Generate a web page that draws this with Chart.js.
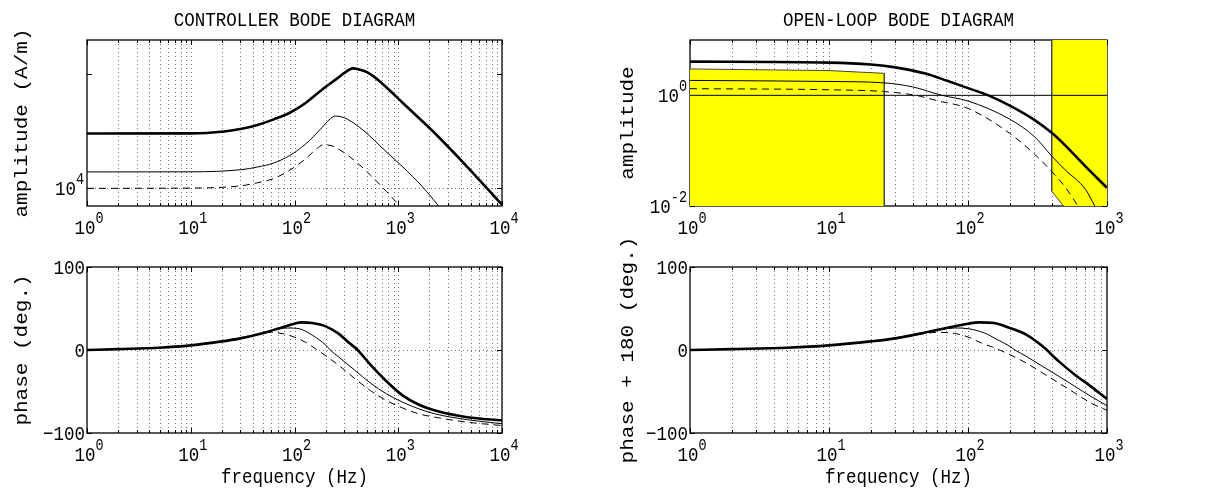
<!DOCTYPE html>
<html><head><meta charset="utf-8">
<script src="https://cdn.jsdelivr.net/npm/chart.js@4/dist/chart.umd.min.js"></script>
<style>
html,body{margin:0;padding:0;background:#fff;}
body{width:1218px;height:491px;overflow:hidden;position:relative;}
canvas{position:absolute;left:0;top:0;}
</style></head>
<body>
<canvas id="c1" width="1218" height="491"></canvas>
<canvas id="c2" width="1218" height="491"></canvas>
<canvas id="c3" width="1218" height="491"></canvas>
<canvas id="c4" width="1218" height="491"></canvas>
<script>
// ---------------- DATA ----------------
// Controller amplitude (A/m) vs frequency (Hz)
const ctrlAmpThickF = [1,10,21,31,44,63,90,128,184,264,300,365,430,504,600,722,1108,2268,4645,10000];
const ctrlAmpThickV = [30270,30340,31550,33270,35970,40270,46030,56100,73280,93540,102300,112700,109600,104000,93500,80910,56100,30270,15380,7180];
const ctrlAmpThinF  = [1,10,31,44,63,90,128,184,215,246,280,326,467,774,1108,1712,2440];
const ctrlAmpThinV  = [13930,13960,14590,15380,16670,19410,24490,34120,39800,43050,42500,40270,31920,20750,15380,10330,7030];
const ctrlAmpDashF  = [1,10,31,44,63,90,128,165,191,225,264,378,541,774,1030];
const ctrlAmpDashV  = [10000,10050,10540,11190,12190,14420,18160,22400,24150,23700,22180,17580,13030,9350,7030];

// Open-loop amplitude vs frequency (Hz)
const olAmpThickF = [1,10,20,30,50,70,100,140,200,300,400,500,700,1000];
const olAmpThickV = [4.06,3.9,3.6,3.2,2.45,1.85,1.35,1.0,0.65,0.36,0.21,0.125,0.052,0.0213];
const olAmpThinF  = [1,10,25,40,65,100,200,300,400,500,700,817];
const olAmpThinV  = [1.86,1.78,1.68,1.42,1.0,0.79,0.37,0.18,0.08,0.045,0.02,0.01];
const olAmpDashF  = [1,10,25,42,60,100,200,300,400,500,618];
const olAmpDashV  = [1.32,1.26,1.17,1.0,0.8,0.58,0.205,0.087,0.042,0.022,0.01];
const olUnityF = [1,1000];
const olUnityV = [1,1];
// yellow specification regions
const specLowF = [1,10,25,25];
const specLowV = [3.0,2.8,2.5,0.01];
const specHighF = [400,400,486,1000];
const specHighV = [10,0.0186,0.01,0.001];

// Controller phase (deg.)
const ctrlPhThickF = [1,2,5,10,20,30,50,70,100,116,148,200,264,326,406,541,774,1108,1585,2268,4645,10000];
const ctrlPhThickV = [0,1.1,2.8,5.6,10.4,14,20.5,26,31.7,33.3,32.5,28.5,20,10,0,-18,-38,-55,-66,-73,-81,-84.7];
const ctrlPhThinF  = [1,2,5,10,20,30,50,63,85,112,148,200,221,264,378,541,774,1108,1585,2268,4645,10000];
const ctrlPhThinV  = [0,1.1,2.8,5.6,10.4,14,20,24,26.5,25.5,18,6,0,-8,-24,-40,-53,-63,-71,-77,-84,-88.8];
const ctrlPhDashF  = [1,2,5,10,20,30,44,60,78,100,129,166,200,264,378,541,774,1108,1585,2268,4645,10000];
const ctrlPhDashV  = [0,1,2.6,5.3,10,13.5,18.5,21.3,19.5,15.5,9,0,-7,-18,-34,-49,-61,-70,-77,-81,-87,-91];

// Open-loop phase + 180 (deg.)
const olPhThickF = [1,2,5,10,20,30,50,70,100,120,154,200,262,344,450,587,765,1000];
const olPhThickV = [0,1.1,2.8,5.6,10.4,14,21.3,26.5,31.7,33.3,32.5,26.5,18.5,4.4,-13.7,-29.7,-43.8,-59];
const olPhThinF  = [1,2,5,10,20,30,50,80,100,131,163,200,218,262,344,450,587,765,1000];
const olPhThinV  = [0,1.1,2.8,5.5,10.4,14.5,21,26.5,25.7,20.5,12.4,4.4,0,-7.6,-19.7,-31.7,-43.8,-55.8,-67];
const olPhDashF  = [1,2,5,10,20,30,50,60,80,100,125,150,169,200,262,344,450,587,765,1000];
const olPhDashV  = [0,1,2.6,5.3,10,14,20,21.3,20,15.7,8.4,3.6,0,-5.6,-15.7,-27.7,-39.8,-51.8,-63.9,-72.7];

// Axis ticks
const xDecadesCtrl = [0,1,2,3,4];
const xDecadesOl = [0,1,2,3];
const ctrlAmpTickExp = [4];        // labelled
const ctrlAmpTickMarks = [1e4,1e5];
const ctrlAmpGrid = [1e4];
const olAmpTickExp = [0,-2];
const olAmpTickMarks = [0.01,1];
const phaseTicks = [-100,0,100];
const phaseGrid = [0];

// Text
const titles = ['CONTROLLER BODE DIAGRAM','OPEN-LOOP BODE DIAGRAM'];
const yLabels = ['amplitude (A/m)','amplitude','phase (deg.)','phase + 180 (deg.)'];
const xLabel = 'frequency (Hz)';

// ---------------- HELPERS ----------------
const FONT = '"Liberation Mono","DejaVu Sans Mono",monospace';
const FS = 17.5, SUP = 13.5, SY = 1.2;
function pts(fs, vs){ return fs.map((f,i)=>({x:f,y:vs[i]})); }
function minorGrid(decs){
  const out=[];
  for(let d=decs[0]; d<decs[decs.length-1]; d++){
    for(let k=1;k<10;k++){ out.push(k*Math.pow(10,d)); }
  }
  out.push(Math.pow(10,decs[decs.length-1]));
  return out;
}
function curve(data, kind){
  const base = {data, pointRadius:0, fill:false, cubicInterpolationMode:'monotone', borderColor:'#000', borderCapStyle:'butt', borderJoinStyle:'round'};
  if(kind==='thick') return Object.assign(base,{borderWidth:2.6});
  if(kind==='thin') return Object.assign(base,{borderWidth:1});
  if(kind==='dash') return Object.assign(base,{borderWidth:1,borderDash:[7,5]});
  return base;
}
function text(ctx, s, x, y, align, base, size, rot){
  ctx.save();
  ctx.translate(x,y);
  ctx.scale(1,SY);
  if(rot) ctx.rotate(-Math.PI/2);
  ctx.font = size+'px '+FONT;
  ctx.textAlign=align; ctx.textBaseline=base;
  ctx.fillText(s,0,0);
  ctx.restore();
}
function drawPow(ctx, b, exp, x, y, align){
  ctx.font = FS+'px '+FONT;
  const wb = ctx.measureText(b).width;
  ctx.font = SUP+'px '+FONT;
  const we = ctx.measureText(exp).width;
  const w = wb + we;
  const x0 = align==='center' ? x - w/2 : x - w;
  text(ctx, b, x0, y, 'left', 'alphabetic', FS);
  text(ctx, exp, x0+wb, y-11, 'left', 'alphabetic', SUP);
}

function makePlugin(cfg){
  return {
    id:'frame'+cfg.id,
    beforeDatasetsDraw(chart){
      const {ctx, chartArea:a, scales:{x,y}} = chart;
      ctx.save();
      ctx.strokeStyle='rgba(0,0,0,0.55)'; ctx.lineWidth=1; ctx.setLineDash([1,3]);
      cfg.xGrid.forEach(v=>{
        const p=Math.round(x.getPixelForValue(v))+0.5;
        if(p<=a.left+1||p>=a.right-1) return;
        ctx.beginPath(); ctx.moveTo(p,a.top); ctx.lineTo(p,a.bottom); ctx.stroke();
      });
      cfg.yGrid.forEach(v=>{
        const p=Math.round(y.getPixelForValue(v))+0.5;
        if(p<=a.top+1||p>=a.bottom-1) return;
        ctx.beginPath(); ctx.moveTo(a.left,p); ctx.lineTo(a.right,p); ctx.stroke();
      });
      ctx.setLineDash([]);
      ctx.strokeStyle='#000'; ctx.lineWidth=1;
      cfg.xGrid.forEach(v=>{
        const p=Math.round(x.getPixelForValue(v))+0.5;
        const major = Math.abs(Math.log10(v)-Math.round(Math.log10(v)))<1e-9;
        const L = major?5:3;
        ctx.beginPath(); ctx.moveTo(p,a.bottom); ctx.lineTo(p,a.bottom-L);
        ctx.moveTo(p,a.top); ctx.lineTo(p,a.top+L); ctx.stroke();
      });
      cfg.yTicks.forEach(v=>{
        const p=Math.round(y.getPixelForValue(v))+0.5;
        ctx.beginPath(); ctx.moveTo(a.left,p); ctx.lineTo(a.left+5,p);
        ctx.moveTo(a.right,p); ctx.lineTo(a.right-5,p); ctx.stroke();
      });
      ctx.lineWidth=1.3; ctx.strokeStyle='#000';
      ctx.strokeRect(a.left,a.top,a.right-a.left,a.bottom-a.top);
      ctx.restore();
    },
    afterDraw(chart){
      const {ctx, chartArea:a, scales:{x,y}} = chart;
      ctx.save();
      ctx.fillStyle='#000';
      cfg.xDec.forEach(e=>{
        drawPow(ctx,'10',String(e),x.getPixelForValue(Math.pow(10,e))+2,a.bottom+28,'center');
      });
      if(cfg.yLog){
        cfg.yLab.forEach(e=>{
          const p=y.getPixelForValue(Math.pow(10,e));
          drawPow(ctx,'10',e<0?'-'+(-e):String(e),a.left-3,p+7,'right');
        });
      } else {
        cfg.yLab.forEach(v=>{
          const p=y.getPixelForValue(v);
          text(ctx, v<0?'\u2212'+(-v):String(v), a.left-2, p+1, 'right','middle',FS);
        });
      }
      text(ctx, cfg.yLabel, cfg.yLabelX, (a.top+a.bottom)/2, 'center','middle',FS,true);
      if(cfg.title) text(ctx, cfg.title, (a.left+a.right)/2, 20, 'center','middle',FS);
      if(cfg.xLabel) text(ctx, cfg.xLabel, (a.left+a.right)/2, a.bottom+44, 'center','middle',FS);
      ctx.restore();
    }
  };
}

function build(id, box, xMax, yScale, datasets, cfg){
  cfg.id=id;
  return new Chart(document.getElementById(id),{
    type:'line',
    data:{datasets},
    options:{
      responsive:false, animation:false, devicePixelRatio:1,
      layout:{padding:{left:box[0],top:box[1],right:1218-box[2],bottom:491-box[3]}},
      plugins:{legend:{display:false},tooltip:{enabled:false}},
      events:[],
      scales:{
        x:{type:'logarithmic',min:1,max:xMax,display:false},
        y:Object.assign({display:false},yScale)
      }
    },
    plugins:[makePlugin(cfg)]
  });
}

const L1=87, R1=502, L2=690, R2=1107;
const BOX_TL=[L1,40,R1,206], BOX_TR=[L2,40,R2,206], BOX_BL=[L1,267,R1,433], BOX_BR=[L2,267,R2,433];
const patchClip={left:1,top:1,right:1,bottom:1};

build('c1',BOX_TL,1e4,{type:'logarithmic',min:7000,max:2e5},[
  curve(pts(ctrlAmpThickF,ctrlAmpThickV),'thick'),
  curve(pts(ctrlAmpThinF,ctrlAmpThinV),'thin'),
  curve(pts(ctrlAmpDashF,ctrlAmpDashV),'dash')
],{xGrid:minorGrid(xDecadesCtrl),yGrid:ctrlAmpGrid,yTicks:ctrlAmpTickMarks,xDec:xDecadesCtrl,yLog:true,yLab:ctrlAmpTickExp,
  yLabel:yLabels[0],yLabelX:22,title:titles[0]});

build('c2',BOX_TR,1e3,{type:'logarithmic',min:0.01,max:10},[
  curve(pts(olAmpThickF,olAmpThickV),'thick'),
  curve(pts(olAmpThinF,olAmpThinV),'thin'),
  curve(pts(olAmpDashF,olAmpDashV),'dash'),
  {data:pts(olUnityF,olUnityV),borderColor:'#000',borderWidth:1,pointRadius:0,fill:false},
  {data:pts(specLowF,specLowV),borderColor:'#444',borderWidth:1,pointRadius:0,tension:0,fill:'start',backgroundColor:'#ffff00',clip:patchClip},
  {data:pts(specHighF,specHighV),borderColor:'#444',borderWidth:1,pointRadius:0,tension:0,fill:'end',backgroundColor:'#ffff00',clip:patchClip}
],{xGrid:minorGrid(xDecadesOl),yGrid:[],yTicks:olAmpTickMarks,xDec:xDecadesOl,yLog:true,yLab:olAmpTickExp,
  yLabel:yLabels[1],yLabelX:628,title:titles[1]});

build('c3',BOX_BL,1e4,{type:'linear',min:-100,max:100},[
  curve(pts(ctrlPhThickF,ctrlPhThickV),'thick'),
  curve(pts(ctrlPhThinF,ctrlPhThinV),'thin'),
  curve(pts(ctrlPhDashF,ctrlPhDashV),'dash')
],{xGrid:minorGrid(xDecadesCtrl),yGrid:phaseGrid,yTicks:phaseTicks,xDec:xDecadesCtrl,yLog:false,yLab:phaseTicks,
  yLabel:yLabels[2],yLabelX:22,xLabel:xLabel});

build('c4',BOX_BR,1e3,{type:'linear',min:-100,max:100},[
  curve(pts(olPhThickF,olPhThickV),'thick'),
  curve(pts(olPhThinF,olPhThinV),'thin'),
  curve(pts(olPhDashF,olPhDashV),'dash')
],{xGrid:minorGrid(xDecadesOl),yGrid:phaseGrid,yTicks:phaseTicks,xDec:xDecadesOl,yLog:false,yLab:phaseTicks,
  yLabel:yLabels[3],yLabelX:628,xLabel:xLabel});
</script>
</body></html>
